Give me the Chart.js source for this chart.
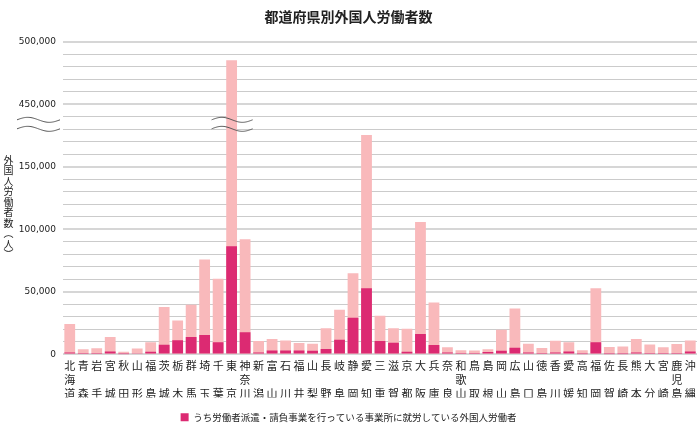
<!DOCTYPE html>
<html>
<head>
<meta charset="utf-8">
<script src="https://cdn.jsdelivr.net/npm/chart.js@4/dist/chart.umd.min.js"></script>
<style>
  html, body { margin: 0; padding: 0; background: #fff; }
  #wrap { width: 700px; height: 426px; }
</style>
</head>
<body>
<div id="wrap"><canvas id="chart"></canvas></div>
<script>
const prefectures = ['北海道','青森','岩手','宮城','秋田','山形','福島','茨城','栃木','群馬','埼玉','千葉','東京','神奈川',
  '新潟','富山','石川','福井','山梨','長野','岐阜','静岡','愛知','三重','滋賀','京都','大阪','兵庫','奈良','和歌山',
  '鳥取','島根','岡山','広島','山口','徳島','香川','愛媛','高知','福岡','佐賀','長崎','熊本','大分','宮崎','鹿児島','沖縄'];

// 外国人労働者数（総数）
const totalWorkers = [24400, 4200, 4900, 14000, 2100, 4700, 9800, 38000, 27200, 39700, 76000, 60500, 485300, 92000,
  10800, 12400, 11200, 9200, 8500, 21000, 35800, 65000, 175500, 31000, 21000, 20600, 105800, 41600, 5700, 3300,
  3200, 4100, 19800, 36800, 8600, 5200, 10900, 9800, 3400, 53000, 5900, 6300, 12400, 8000, 5700, 8300, 11200];

// うち労働者派遣・請負事業を行っている事業所に就労している外国人労働者
const dispatchWorkers = [1600, 300, 400, 2400, 200, 500, 2100, 7800, 11300, 14000, 15600, 9700, 86500, 17700,
  1600, 3200, 3100, 3200, 3000, 4300, 11800, 29300, 53000, 10700, 9400, 2100, 16400, 7500, 1600, 300,
  300, 1900, 3000, 5400, 1600, 300, 1600, 2400, 200, 9700, 200, 200, 1600, 300, 300, 300, 2400];

const yTickLabels = { 0: '0', 50000: '50,000', 100000: '100,000', 150000: '150,000', 200000: '450,000', 250000: '500,000' };
const yAxisTitle = ['外','国','人','労','働','者','数','︵','人','︶'];

// 縦軸の省略（150,000〜450,000）: 200,000超は250,000差し引いて表示
const BREAK_SHIFT = 250000;
const toDisplay = v => v > 200000 ? v - BREAK_SHIFT : v;

const verticalLabels = prefectures.map(n => n.length === 3 ? n.split('') : [n[0], '', n[1]]);

const DARK = '#dc2a72';
const LIGHT = '#f9b9bb';
const JP = '"Noto Sans CJK JP", "Noto Sans", sans-serif';

function wave(ctx, x0, x1, y, amp) {
  ctx.beginPath();
  for (let i = 0; i <= 40; i++) {
    const t = i / 40;
    const x = x0 + (x1 - x0) * t;
    const yy = y - amp * Math.sin(Math.PI * 2 * t);
    if (i === 0) ctx.moveTo(x, yy); else ctx.lineTo(x, yy);
  }
  ctx.stroke();
}

const extras = {
  id: 'extras',
  afterDatasetsDraw(chart) {
    const ctx = chart.ctx;
    const y = chart.scales.y;
    const x = chart.scales.x;
    const mid = y.getPixelForValue(184000);
    ctx.save();
    ctx.strokeStyle = '#555';
    ctx.lineWidth = 1;
    const tx = x.getPixelForValue(12);
    [[17, 60], [tx - 20, tx + 21]].forEach(([a, b]) => {
      wave(ctx, a, b, mid - 4.5, 2.5);
      wave(ctx, a, b, mid + 4.5, 2.5);
    });
    // y axis title, upright vertical text
    ctx.fillStyle = '#222';
    ctx.font = '10px ' + JP;
    ctx.textAlign = 'center';
    ctx.textBaseline = 'middle';
    yAxisTitle.forEach((c, i) => ctx.fillText(c, 8.5, 160 + i * 10.5));
    ctx.restore();
  }
};

new Chart(document.getElementById('chart'), {
  type: 'bar',
  data: {
    labels: verticalLabels,
    datasets: [{
      label: 'うち労働者派遣・請負事業を行っている事業所に就労している外国人労働者',
      data: dispatchWorkers.map(toDisplay),
      backgroundColor: DARK,
      barPercentage: 0.8,
      categoryPercentage: 1
    }, {
      label: '外国人労働者数',
      data: totalWorkers.map(toDisplay),
      backgroundColor: LIGHT,
      barPercentage: 0.8,
      categoryPercentage: 1
    }]
  },
  options: {
    responsive: true,
    maintainAspectRatio: false,
    animation: false,
    layout: { padding: { left: 0, right: 3, top: 0, bottom: -6 } },
    plugins: {
      title: {
        display: true,
        text: '都道府県別外国人労働者数',
        color: '#222',
        font: { family: JP, size: 14, weight: 'bold' },
        padding: { top: 8, bottom: 17 }
      },
      legend: {
        position: 'bottom',
        labels: {
          filter: item => item.datasetIndex === 0,
          boxWidth: 8,
          boxHeight: 8,
          color: '#222',
          font: { family: JP, size: 9.5 },
          padding: 15
        }
      },
      tooltip: { enabled: false }
    },
    scales: {
      x: {
        stacked: true,
        grid: { display: false },
        border: { display: false },
        ticks: {
          autoSkip: false,
          maxRotation: 0,
          padding: -3,
          color: '#222',
          font: { family: JP, size: 11, lineHeight: 1.245 }
        }
      },
      y: {
        stacked: false,
        min: 0,
        max: 250000,
        afterFit(scale) { scale.width = 63; },
        border: { display: false },
        grid: {
          drawTicks: false,
          color: ctx => ctx.tick && ctx.tick.value % 50000 === 0 ? '#d6d6d6' : '#cbcbcb',
          lineWidth: ctx => ctx.tick && ctx.tick.value % 50000 === 0 ? 2 : 1
        },
        ticks: {
          autoSkip: false,
          stepSize: 10000,
          padding: 7,
          color: '#222',
          font: { family: '"DejaVu Sans", sans-serif', size: 9 },
          callback: v => yTickLabels[v] !== undefined ? yTickLabels[v] : ''
        }
      }
    }
  },
  plugins: [extras]
});
</script>
</body>
</html>
